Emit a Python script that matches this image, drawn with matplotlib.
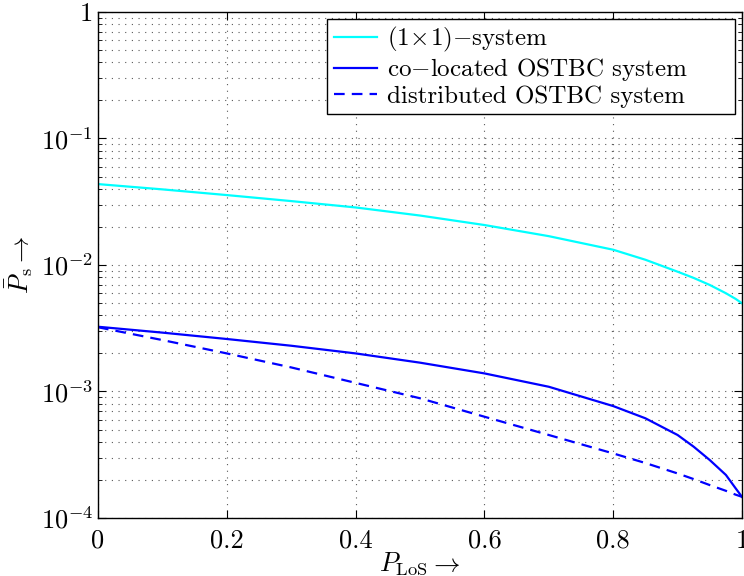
import matplotlib
matplotlib.use("Agg")
import matplotlib.pyplot as plt
from matplotlib.ticker import LogLocator, NullFormatter

plt.rcParams['font.family'] = 'serif'
plt.rcParams['font.serif'] = ['cmr10']
plt.rcParams['mathtext.fontset'] = 'cm'
plt.rcParams['axes.formatter.use_mathtext'] = True
plt.rcParams['axes.unicode_minus'] = False

# values
p_los = [0.0, 0.1, 0.2, 0.3, 0.4, 0.5, 0.6, 0.7, 0.8, 0.85, 0.9, 0.925, 0.95,
         0.975, 0.99, 1.0]
ps_siso = [0.0436, 0.0396, 0.0357, 0.0320, 0.0285, 0.0246, 0.0207, 0.0169,
           0.0132, 0.0110, 0.00885, 0.0079, 0.00695, 0.00598, 0.00540, 0.00498]
ps_colocated = [0.00325, 0.00292, 0.0026, 0.0023, 0.00200, 0.00169, 0.00139,
                0.00109, 0.000767, 0.000614, 0.000453, 0.000366, 0.000287,
                0.000219, 0.000172, 0.000147]
ps_distributed = [0.00322, 0.00255, 0.0020, 0.00155, 0.00117, 0.000884, 0.000632,
                  0.000453, 0.000324, 0.000272, 0.000225, 0.000203, 0.000182,
                  0.000164, 0.000153, 0.000147]

labels = [r'$(1\!\times\!1){-}$system', r'co$-$located OSTBC system',
          r'distributed OSTBC system']

fig = plt.figure(figsize=(7.44, 5.76), dpi=100)
ax = fig.add_axes([0.1317, 0.1007, 0.8656, 0.8785])

ax.semilogy(p_los, ps_siso, color='cyan', lw=1.6, label=labels[0])
ax.semilogy(p_los, ps_colocated, color='blue', lw=1.6, label=labels[1])
ax.semilogy(p_los, ps_distributed, color='blue', lw=1.6,
            linestyle=(0, (4.8, 3.2)), label=labels[2])

ax.set_xlim(0, 1)
ax.set_ylim(1e-4, 1)
ax.set_xticks([0, 0.2, 0.4, 0.6, 0.8, 1])
ax.set_xticklabels(['0', '0.2', '0.4', '0.6', '0.8', '1'])
ax.set_yticks([1e-4, 1e-3, 1e-2, 1e-1, 1])
ax.set_yticklabels([r'$10^{-4}$', r'$10^{-3}$', r'$10^{-2}$', r'$10^{-1}$', '1'])
ax.yaxis.set_minor_locator(LogLocator(base=10, subs=range(2, 10), numticks=20))
ax.yaxis.set_minor_formatter(NullFormatter())

ax.tick_params(which='both', direction='in', top=True, right=True, labelsize=19)
ax.tick_params(which='major', length=6)
ax.tick_params(which='minor', length=3)
ax.tick_params(axis='x', pad=8)

grid_style = dict(linestyle=(0, (1, 5)), color='0.35', lw=0.8)
ax.grid(True, which='major', **grid_style)
ax.grid(True, which='minor', axis='y', **grid_style)

for s in ax.spines.values():
    s.set_linewidth(1.0)

ax.set_xlabel(r'$P_\mathrm{LoS}\rightarrow$', fontsize=19, labelpad=-2)
ax.set_ylabel(r'$\bar{P}_\mathrm{s}\rightarrow$', fontsize=19, labelpad=4)

# legend box stretched to the width used in the original figure
leg = ax.legend(loc='upper left', bbox_to_anchor=(0.356, 0.794, 0.633, 0.192),
                mode='expand', borderaxespad=0, fontsize=18, fancybox=False,
                framealpha=1, edgecolor='black', handlelength=1.75,
                borderpad=0.25, labelspacing=0.08, handletextpad=0.4)
leg.get_frame().set_linewidth(1.0)

fig.savefig('out.png', dpi=100)
